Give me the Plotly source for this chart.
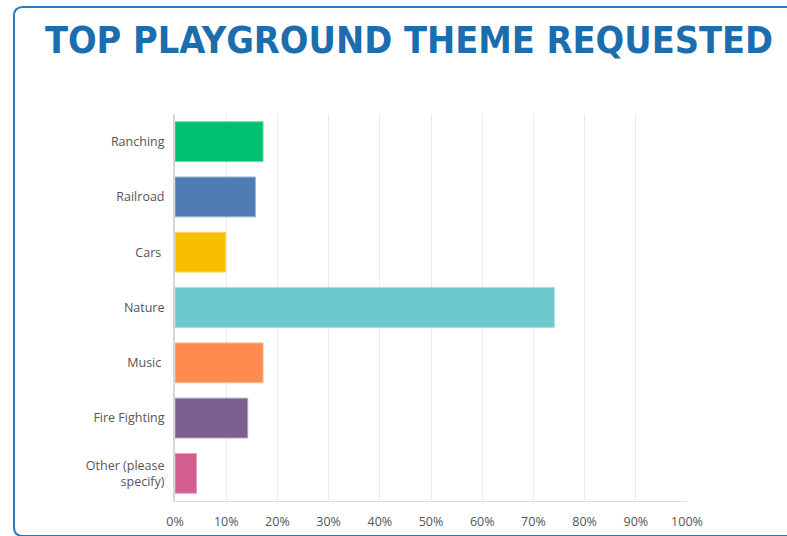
import plotly.graph_objects as go

categories = ["Ranching", "Railroad", "Cars", "Nature", "Music", "Fire Fighting", "Other (please specify)"]
tick_labels = ["Ranching", "Railroad", "Cars\u00a0", "Nature", "Music\u00a0", "Fire Fighting", "Other (please<br>specify)"]
values = [17.2, 15.7, 9.9, 74.1, 17.2, 14.2, 4.2]
colors = ["#00BF6F", "#507CB6", "#F9BE00", "#6BC8CD", "#FF8B4F", "#7D5E90", "#D25F90"]
edge_colors = ["#66d9a9", "#96b0d3", "#fbd866", "#a6dee1", "#ffb995", "#b19ebc", "#e49fbc"]
x_ticks = [0, 10, 20, 30, 40, 50, 60, 70, 80, 90, 100]

W, H = 787, 536
L, R, T, B = 175, 687, 114, 501


def px(x):
    return (x - L) / (R - L)


def py(y):
    return (B - y) / (B - T)


fig = go.Figure()
fig.add_trace(go.Bar(
    x=values,
    y=categories,
    orientation="h",
    marker=dict(color=colors, line=dict(color=edge_colors, width=1)),
    hoverinfo="x+y",
))

# rounded frame
x0, y0, x1, y1, r = 14, 7, 805, 536, 9
path = (f"M {px(x0)},{py(y1 - r)} L {px(x0)},{py(y0 + r)} "
        f"Q {px(x0)},{py(y0)} {px(x0 + r)},{py(y0)} L {px(x1)},{py(y0)} "
        f"M {px(x0)},{py(y1 - r)} Q {px(x0)},{py(y1)} {px(x0 + r)},{py(y1)} L {px(x1)},{py(y1)}")
fig.add_shape(type="path", xref="paper", yref="paper", path=path,
              line=dict(color="#2a7abf", width=2), layer="above")

fig.update_layout(
    width=W, height=H,
    margin=dict(l=L, r=W - R, t=T, b=H - B, autoexpand=False),
    paper_bgcolor="white", plot_bgcolor="white",
    bargap=0.28,
    showlegend=False,
    title=dict(
        text="<b>TOP PLAYGROUND THEME REQUESTED</b>",
        x=409 / W, xref="container", xanchor="center",
        y=1 - 40 / H, yref="container", yanchor="middle",
        font=dict(family="DejaVu Sans Condensed, Lato, sans-serif", size=37.5, color="#1b6dae"),
    ),
    font=dict(family="Open Sans, sans-serif", size=12.5, color="#555555"),
)
fig.update_xaxes(
    range=[0, 100], tickvals=x_ticks, ticktext=[f"{v}%" for v in x_ticks],
    showgrid=True, gridcolor="#ececec", gridwidth=1, zeroline=False,
    showline=True, linecolor="#dcdcdc", linewidth=1,
    ticks="outside", ticklen=9, tickcolor="rgba(0,0,0,0)",
    tickfont=dict(size=12.5, color="#555555"), fixedrange=True, automargin=False,
)
fig.update_yaxes(
    categoryorder="array", categoryarray=categories, autorange="reversed",
    tickvals=categories, ticktext=tick_labels,
    showline=True, linecolor="#d6d6d6", linewidth=2, showgrid=False,
    ticks="outside", ticklen=6, tickcolor="rgba(0,0,0,0)",
    tickfont=dict(size=12.5, color="#555555"), fixedrange=True, automargin=False,
)

fig.write_html(
    "out.html",
    config={"displayModeBar": False},
    post_script="document.body.style.margin='0';document.body.style.overflow='hidden';",
)
